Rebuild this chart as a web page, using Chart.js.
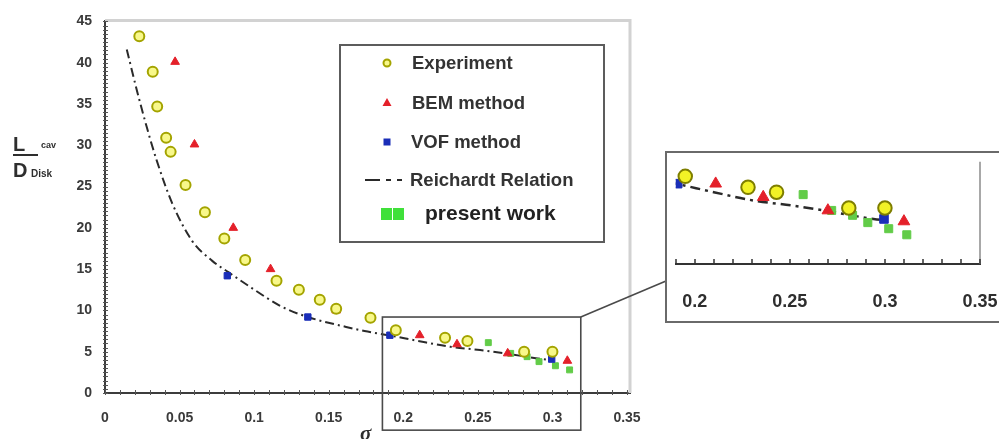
<!DOCTYPE html>
<html><head><meta charset="utf-8">
<script src="https://cdn.jsdelivr.net/npm/chart.js@4.4.0/dist/chart.umd.min.js"></script>
<style>
html,body{margin:0;padding:0;background:#fff;overflow:hidden;width:999px;height:439px;}
#main{position:absolute;left:0;top:0;}
#insetWrap{position:absolute;left:665px;top:151px;width:358px;height:168px;border:2px solid #6a6a6a;background:#fff;overflow:hidden;}
#inset{position:absolute;left:0;top:0;}
</style></head><body>
<canvas id="main" width="999" height="439"></canvas>
<div id="insetWrap"><canvas id="inset" width="358" height="168"></canvas></div>
<script>
// ---- data ----
const experimentX = [0.023,0.032,0.035,0.041,0.044,0.054,0.067,0.080,0.094,0.115,0.130,0.144,0.155,0.178,0.195,0.228,0.243,0.281,0.300];
const experimentY = [43.2,38.9,34.7,30.9,29.2,25.2,21.9,18.7,16.1,13.6,12.5,11.3,10.2,9.1,7.6,6.7,6.3,5.0,5.0];
const bemX = [0.047,0.060,0.086,0.111,0.155,0.211,0.236,0.270,0.310];
const bemY = [40.1,30.1,20.0,15.0,10.0,7.0,5.9,4.8,3.9];
const vofX = [0.082,0.136,0.191,0.2995];
const vofY = [14.2,9.2,7.0,4.1];
const presentX = [0.257,0.272,0.283,0.291,0.302,0.3115];
const presentY = [6.1,4.8,4.4,3.8,3.3,2.8];
const reichardtX = [0.0146,0.0213,0.028,0.0346,0.045,0.0585,0.0719,0.083,0.0985,0.118,0.136,0.1617,0.174,0.19,0.21,0.2315,0.2515,0.2715,0.294,0.30];
const reichardtY = [41.6,36.7,32.2,28.2,23.0,18.4,16.0,14.6,12.7,10.5,9.2,8.0,7.5,7.0,6.3,5.6,5.2,4.7,4.1,4.0];
const xTickValues = [0,0.05,0.1,0.15,0.2,0.25,0.3,0.35];
const yTickValues = [0,5,10,15,20,25,30,35,40,45];
const insetTickValues = [0.2,0.25,0.3,0.35];
const legendLabels = ['Experiment','BEM method','VOF method','Reichardt Relation','present work'];

// ---- helpers ----
const FONT = '"Liberation Sans", Arial, sans-serif';
const pts = (xs, ys) => xs.map((x, i) => ({x, y: ys[i]}));
const fmt = v => String(+(+v).toFixed(2));

function datasets(big){
  const k = big ? 1.35 : 1;
  return [
    {label:legendLabels[0], data:pts(experimentX,experimentY), pointStyle:'circle', pointRadius:5*k,
     backgroundColor: big ? '#f2f226' : '#f8f88a', borderColor: big ? '#7e7e00' : '#a4a400', borderWidth:2},
    {label:legendLabels[1], data:pts(bemX,bemY), pointStyle:'triangle', pointRadius:5*k,
     backgroundColor:'#e4202a', borderColor:'#e4202a', borderWidth:1},
    {label:legendLabels[2], data:pts(vofX,vofY), pointStyle:'rect', pointRadius:4.5*k,
     backgroundColor:'#1a2eb8', borderColor:'#1a2eb8', borderWidth:1},
    {label:legendLabels[4], data:pts(presentX,presentY), pointStyle:'rect', pointRadius:4.2*k,
     backgroundColor:'#62cc48', borderColor:'#62cc48', borderWidth:1},
    {label:legendLabels[3], data:pts(reichardtX,reichardtY), showLine:true, pointRadius:0,
     borderColor:'#2a2a2a', borderWidth: big ? 2.5 : 2, borderDash: big ? [10,5,3,5] : [9,4,2,4],
     cubicInterpolationMode:'monotone', fill:false}
  ];
}

const mainDecor = {
  id:'mainDecor',
  afterDraw(chart){
    const {ctx, chartArea:a, scales:{x, y}} = chart;
    ctx.save();
    // light frame top/right
    ctx.strokeStyle = '#d2d2d2'; ctx.lineWidth = 3;
    ctx.beginPath(); ctx.moveTo(a.left, a.top-1); ctx.lineTo(a.right, a.top-1); ctx.lineTo(a.right, a.bottom); ctx.stroke();
    // minor ticks
    ctx.strokeStyle = '#555'; ctx.lineWidth = 1;
    ctx.beginPath();
    for (let i = 0; i <= 90; i++){ const py = Math.round(y.getPixelForValue(i*0.5)) + 0.5; ctx.moveTo(a.left-2, py); ctx.lineTo(a.left+3, py); }
    for (let i = 0; i <= 35; i++){ const px = Math.round(x.getPixelForValue(i*0.01)) + 0.5; ctx.moveTo(px, a.bottom+2); ctx.lineTo(px, a.bottom-3); }
    ctx.stroke();
    // zoom rectangle and connector
    const zx0 = x.getPixelForValue(0.186), zx1 = x.getPixelForValue(0.319);
    const zy0 = y.getPixelForValue(9.2), zy1 = y.getPixelForValue(-4.5);
    ctx.strokeStyle = '#4a4a4a'; ctx.lineWidth = 1.6;
    ctx.strokeRect(zx0, zy0, zx1-zx0, zy1-zy0);
    ctx.beginPath(); ctx.moveTo(zx1, zy0); ctx.lineTo(666, 281); ctx.stroke();
    // legend
    ctx.strokeStyle = '#5c5c5c'; ctx.lineWidth = 2;
    ctx.strokeRect(340, 45, 264, 197);
    const mx = 387;
    ctx.lineWidth = 2; ctx.strokeStyle = '#a4a400'; ctx.fillStyle = '#f8f88a';
    ctx.beginPath(); ctx.arc(mx, 63, 3.5, 0, Math.PI*2); ctx.fill(); ctx.stroke();
    ctx.fillStyle = '#e4202a';
    ctx.beginPath(); ctx.moveTo(mx, 98); ctx.lineTo(mx+4.5, 106); ctx.lineTo(mx-4.5, 106); ctx.closePath(); ctx.fill();
    ctx.fillStyle = '#1a2eb8'; ctx.fillRect(mx-3.5, 138.5, 7, 7);
    ctx.strokeStyle = '#2a2a2a'; ctx.lineWidth = 2;
    ctx.beginPath(); ctx.moveTo(365, 180); ctx.lineTo(380, 180); ctx.moveTo(386, 180); ctx.lineTo(391, 180); ctx.moveTo(397, 180); ctx.lineTo(402, 180); ctx.stroke();
    ctx.fillStyle = '#3fe03a';
    ctx.fillRect(381, 208, 11, 12); ctx.fillRect(393, 208, 11, 12);
    ctx.fillStyle = '#333'; ctx.textBaseline = 'middle'; ctx.textAlign = 'left';
    ctx.font = 'bold 18.5px ' + FONT;
    ctx.fillText(legendLabels[0], 412, 64);
    ctx.fillText(legendLabels[1], 412, 104);
    ctx.fillText(legendLabels[2], 411, 143);
    ctx.fillText(legendLabels[3], 410, 181);
    ctx.fillStyle = '#222'; ctx.font = 'bold 21px ' + FONT;
    ctx.fillText(legendLabels[4], 425, 214);
    // y axis title  L_cav / D_Disk
    ctx.textBaseline = 'alphabetic'; ctx.fillStyle = '#2e2e2e';
    ctx.font = 'bold 20px ' + FONT; ctx.fillText('L', 13, 151);
    ctx.font = 'bold 9px ' + FONT; ctx.fillText('cav', 41, 148);
    ctx.lineWidth = 2; ctx.strokeStyle = '#2e2e2e';
    ctx.beginPath(); ctx.moveTo(13, 155); ctx.lineTo(38, 155); ctx.stroke();
    ctx.font = 'bold 20px ' + FONT; ctx.fillText('D', 13, 177);
    ctx.font = 'bold 10px ' + FONT; ctx.fillText('Disk', 31, 177);
    // x axis title
    ctx.font = 'italic bold 21px "Liberation Serif", serif'; ctx.fillText('σ', 360, 440);
    ctx.restore();
  }
};

new Chart(document.getElementById('main'), {
  type:'scatter',
  data:{datasets:datasets(false)},
  options:{
    responsive:false, animation:false, devicePixelRatio:1,
    layout:{padding:{left:0, top:21, right:369, bottom:0}},
    plugins:{legend:{display:false}, tooltip:{enabled:false}},
    scales:{
      x:{type:'linear', min:0, max:0.352,
         afterBuildTicks:s=>{ s.ticks = xTickValues.map(v=>({value:v})); },
         afterFit:s=>{ s.height = 46; },
         grid:{display:false, drawTicks:false},
         border:{display:true, color:'#3c3c3c', width:2},
         ticks:{padding:17, color:'#3a3a3a', autoSkip:false, maxRotation:0, font:{family:FONT, size:14, weight:'bold'}, callback:v=>fmt(v)}},
      y:{type:'linear', min:0, max:45,
         afterBuildTicks:s=>{ s.ticks = yTickValues.map(v=>({value:v})); },
         afterFit:s=>{ s.width = 105; },
         grid:{display:false, drawTicks:false},
         border:{display:true, color:'#3c3c3c', width:2},
         ticks:{padding:13, color:'#3a3a3a', font:{family:FONT, size:14, weight:'bold'}, callback:v=>fmt(v)}}
    }
  },
  plugins:[mainDecor]
});

const insetDecor = {
  id:'insetDecor',
  afterDraw(chart){
    const {ctx, chartArea:a, scales:{x}} = chart;
    ctx.save();
    ctx.strokeStyle = '#a8a8a8'; ctx.lineWidth = 2;
    ctx.beginPath(); ctx.moveTo(a.right, a.top); ctx.lineTo(a.right, a.bottom); ctx.stroke();
    ctx.strokeStyle = '#333'; ctx.lineWidth = 1.5;
    ctx.beginPath();
    for (let i = 19; i <= 35; i++){ const px = Math.round(x.getPixelForValue(i*0.01)); ctx.moveTo(px, a.bottom); ctx.lineTo(px, a.bottom-5); }
    ctx.stroke();
    ctx.restore();
  }
};

new Chart(document.getElementById('inset'), {
  type:'scatter',
  data:{datasets:datasets(true)},
  options:{
    responsive:false, animation:false, devicePixelRatio:1,
    layout:{padding:{left:6, top:7, right:45, bottom:0}},
    plugins:{legend:{display:false}, tooltip:{enabled:false}},
    scales:{
      x:{type:'linear', min:0.19, max:0.35,
         afterBuildTicks:s=>{ s.ticks = insetTickValues.map(v=>({value:v})); },
         afterFit:s=>{ s.height = 57; s.paddingLeft = 0; s.paddingRight = 0; },
         grid:{display:false, drawTicks:false},
         border:{display:true, color:'#333', width:2},
         ticks:{padding:27, color:'#2e2e2e', autoSkip:false, maxRotation:0, font:{family:FONT, size:18, weight:'bold'}, callback:v=>fmt(v)}},
      y:{type:'linear', min:0.4, max:8.8, display:false}
    }
  },
  plugins:[insetDecor]
});
</script>
</body></html>
